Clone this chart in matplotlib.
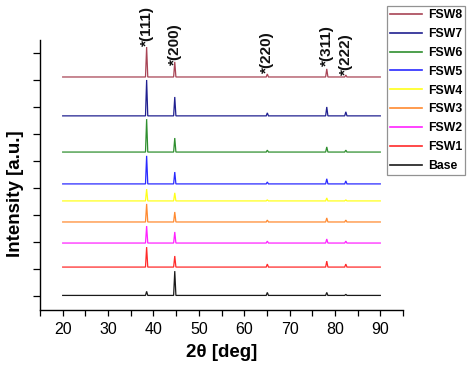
import matplotlib
matplotlib.use("Agg")
import matplotlib.pyplot as plt
from matplotlib.lines import Line2D

plt.rcParams['font.family'] = ['Liberation Sans', 'DejaVu Sans']

# ---- data ----
peak_pos = [38.5, 44.7, 65.1, 78.2, 82.4]
peak_labels = ["*(111)", "*(200)", "*(220)", "*(311)", "*(222)"]
label_y = [9.26, 8.55, 8.26, 8.52, 8.17]

series_names = ["Base", "FSW1", "FSW2", "FSW3", "FSW4", "FSW5", "FSW6", "FSW7", "FSW8"]
offsets = [0.02, 1.07, 1.96, 2.74, 3.52, 4.15, 5.33, 6.67, 8.11]

base_h = [0.15, 0.90, 0.11, 0.11, 0.04]
fsw1_h = [0.74, 0.41, 0.11, 0.22, 0.11]
fsw2_h = [0.63, 0.41, 0.07, 0.15, 0.07]
fsw3_h = [0.67, 0.37, 0.07, 0.15, 0.07]
fsw4_h = [0.44, 0.30, 0.04, 0.11, 0.04]
fsw5_h = [1.04, 0.44, 0.07, 0.19, 0.11]
fsw6_h = [1.22, 0.52, 0.07, 0.19, 0.07]
fsw7_h = [1.33, 0.70, 0.11, 0.33, 0.15]
fsw8_h = [1.11, 0.56, 0.11, 0.30, 0.07]
heights = [base_h, fsw1_h, fsw2_h, fsw3_h, fsw4_h, fsw5_h, fsw6_h, fsw7_h, fsw8_h]

colors = ["#1a1a1a", "#ff2a2a", "#ff22ff", "#ff8a30", "#ffff1a",
          "#2a2aff", "#2f8f2f", "#202090", "#a84455"]

x_start, x_end = 20, 90
half_w = 0.25  # peak half width (style)

fig = plt.figure(figsize=(4.74, 3.76), dpi=100)
ax = fig.add_axes([40/474, 1-310/376, 363/474, 270/376])

for name, off, h, c in zip(series_names, offsets, heights, colors):
    xs = [x_start]
    ys = [off]
    for p, hh in zip(peak_pos, h):
        xs += [p - half_w, p, p + half_w]
        ys += [off, off + hh, off]
    xs.append(x_end)
    ys.append(off)
    ax.plot(xs, ys, color=c, lw=0.9, solid_joinstyle='miter')

for p, lab, ly in zip(peak_pos, peak_labels, label_y):
    ax.text(p, ly, lab, rotation=90, ha='center', va='bottom',
            fontsize=11, fontweight='bold', color='#111111')

ax.set_xlim(15, 95)
ax.set_ylim(-0.52, 9.48)
ax.set_xticks(range(20, 91, 10))
ax.set_xticks(range(15, 96, 10), minor=True)
ax.set_yticks(range(0, 10))
ax.set_yticklabels([])
ax.tick_params(axis='x', which='both', direction='out', length=4, width=0.9,
               labelsize=11.5, pad=5)
ax.tick_params(axis='y', direction='out', length=5, width=0.9)
for s in ['top', 'right']:
    ax.spines[s].set_visible(False)
for s in ['left', 'bottom']:
    ax.spines[s].set_linewidth(1.0)

ax.set_xlabel("2θ [deg]", fontsize=13.5, fontweight='bold', labelpad=5)
ax.set_ylabel("Intensity [a.u.]", fontsize=13.5, fontweight='bold')
ax.yaxis.set_label_coords(-0.045, 0.43)

handles = [Line2D([], [], color=c, lw=1.2) for c in colors][::-1]
labels = series_names[::-1]
leg = fig.legend(handles, labels, loc='lower left',
                 bbox_to_anchor=(387/474, 1-175/376), frameon=True,
                 fancybox=False, prop={'weight': 'bold', 'size': 8.8},
                 handlelength=2.6, handletextpad=0.5, labelspacing=0.56,
                 borderpad=0.25, borderaxespad=0)
leg.get_frame().set_edgecolor('#777777')
leg.get_frame().set_linewidth(0.9)

fig.savefig("out.png", dpi=100)
